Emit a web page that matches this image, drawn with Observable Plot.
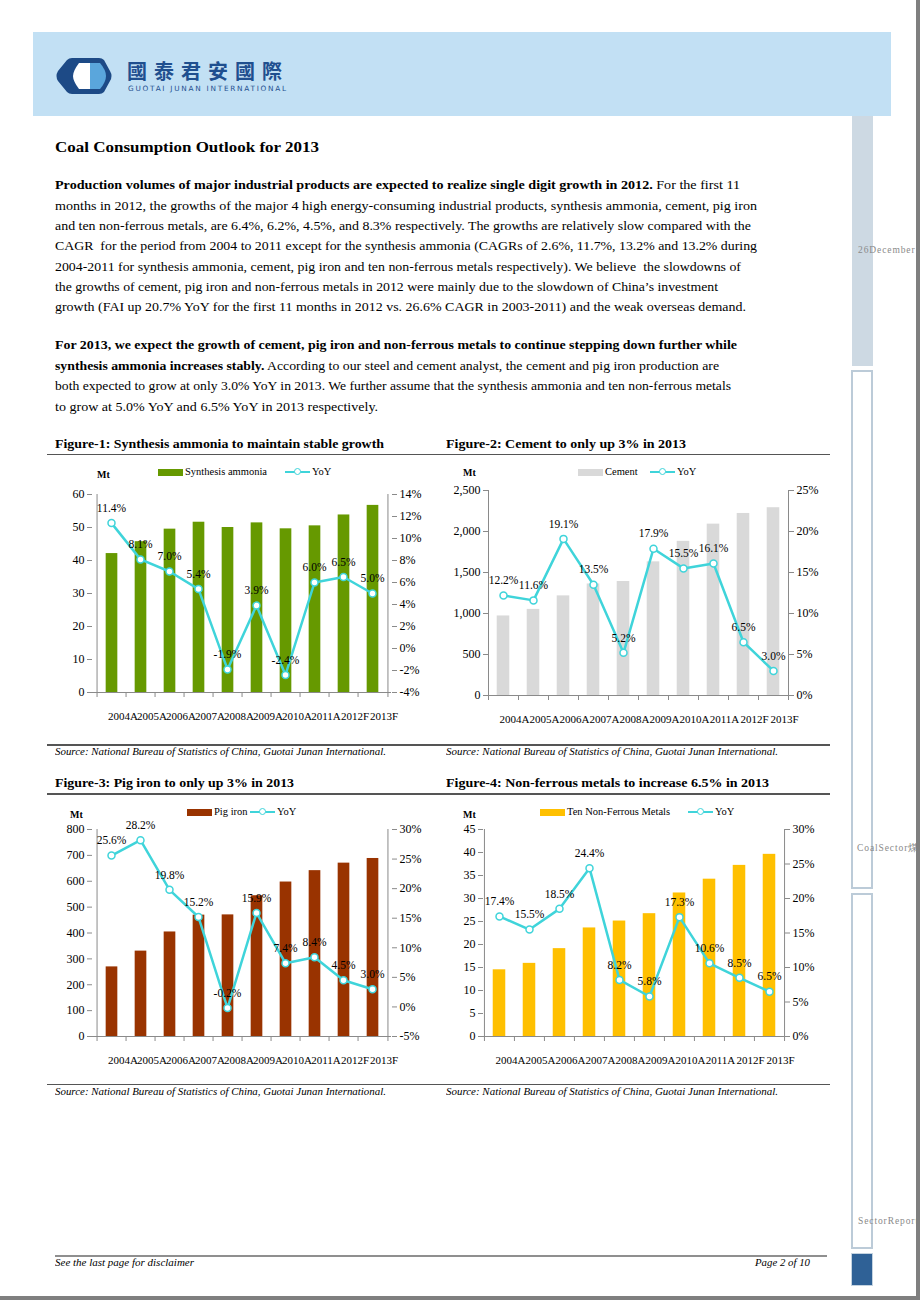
<!DOCTYPE html>
<html><head><meta charset="utf-8">
<script src="https://cdn.jsdelivr.net/npm/d3@7"></script>
<script src="https://cdn.jsdelivr.net/npm/@observablehq/plot@0.6"></script>
<style>
body{margin:0;background:#fff;}
#page{position:relative;width:920px;height:1300px;overflow:hidden;background:#fff;font-family:"Liberation Serif","Times New Roman",serif;color:#000;}
.t{position:absolute;white-space:nowrap;display:inline-block;transform-origin:0 50%;}
.body{font-size:13px;line-height:20px;height:20px;}
.fig{font-size:13px;font-weight:bold;line-height:20px;}
.src{font-size:10.5px;font-style:italic;line-height:14px;}
.rule{position:absolute;background:#555;}
.side{position:absolute;font-size:9.5px;letter-spacing:0.9px;color:#8a8a8a;white-space:nowrap;line-height:12px;}
.lg{position:absolute;font-size:10.5px;line-height:12px;white-space:nowrap;}
.mt{position:absolute;font-size:10px;font-weight:bold;line-height:12px;}
</style>
</head><body>
<div id="page">
  <!-- header -->
  <div style="position:absolute;left:33px;top:32px;width:858px;height:84px;background:#c2e0f4;"></div>
  <svg style="position:absolute;left:50px;top:54px;" width="250" height="46" viewBox="50 54 250 46">
    <path d="M58,71 Q55,76 58,81 L67,92 Q69,94 72,94 L99,94 Q102,94 104,92 L110,81 Q113,76 110,71 L104,60 Q102,58 99,58 L72,58 Q69,58 67,60 Z" fill="#1d4a86"/>
    <path d="M79,63 L90,63 L90,89 L79,89 Q73,81 73,76 Q73,71 79,63 Z" fill="#ffffff"/>
    <path d="M90,63 L100,63 Q106,70 106,76 Q106,82 100,89 L90,89 Z" fill="#5aa6dc"/>
    <text x="127" y="79" font-family="'Noto Sans CJK TC'" font-weight="bold" font-size="20" letter-spacing="7" fill="#1f4f8f">國泰君安國際</text>
    <text x="128" y="91" font-family="'DejaVu Sans'" font-size="7.3" letter-spacing="1.75" fill="#1f4f8f">GUOTAI JUNAN INTERNATIONAL</text>
  </svg>

  <!-- right sidebar -->
  <div style="position:absolute;left:852px;top:116px;width:21px;height:250px;background:#cdd9e3;"></div>
  <div style="position:absolute;left:851px;top:370px;width:18px;height:515px;border:2px solid #bccbd8;"></div>
  <div style="position:absolute;left:851px;top:893px;width:18px;height:352px;border:2px solid #bccbd8;"></div>
  <div style="position:absolute;left:851px;top:1253px;width:22px;height:33px;background:#2f6196;border:1px solid #c4d3e0;box-sizing:border-box;"></div>
  <div class="side" style="left:858px;top:244px;">26December</div>
  <div class="side" style="left:857px;top:842px;">CoalSector煤</div>
  <div class="side" style="left:858px;top:1215px;">SectorReport</div>
  <div style="position:absolute;left:916px;top:0;width:4px;height:1300px;background:#7f7f7f;"></div>
  <div style="position:absolute;left:0;top:1296px;width:920px;height:4px;background:#7f7f7f;"></div>

  <!-- text -->
  <span class="t" data-r="319" style="left:55px;top:137px;font-size:15.5px;font-weight:bold;line-height:20px;">Coal Consumption Outlook for 2013</span>

  <span class="t body" data-r="740" style="left:55px;top:175px;"><b>Production volumes of major industrial products are expected to realize single digit growth in 2012.</b> For the first 11</span>
  <span class="t body" data-r="757" style="left:55px;top:195.5px;">months in 2012, the growths of the major 4 high energy-consuming industrial products, synthesis ammonia, cement, pig iron</span>
  <span class="t body" data-r="751" style="left:55px;top:216px;">and ten non-ferrous metals, are 6.4%, 6.2%, 4.5%, and 8.3% respectively. The growths are relatively slow compared with the</span>
  <span class="t body" data-r="757" style="left:55px;top:236px;">CAGR&nbsp; for the period from 2004 to 2011 except for the synthesis ammonia (CAGRs of 2.6%, 11.7%, 13.2% and 13.2% during</span>
  <span class="t body" data-r="741" style="left:55px;top:256.5px;">2004-2011 for synthesis ammonia, cement, pig iron and ten non-ferrous metals respectively). We believe&nbsp; the slowdowns of</span>
  <span class="t body" data-r="718" style="left:55px;top:277px;">the growths of cement, pig iron and non-ferrous metals in 2012 were mainly due to the slowdown of China’s investment</span>
  <span class="t body" data-r="746" style="left:55px;top:297px;">growth (FAI up 20.7% YoY for the first 11 months in 2012 vs. 26.6% CAGR in 2003-2011) and the weak overseas demand.</span>

  <span class="t body" data-r="737" style="left:55px;top:335px;"><b>For 2013, we expect the growth of cement, pig iron and non-ferrous metals to continue stepping down further while</b></span>
  <span class="t body" data-r="719" style="left:55px;top:356px;"><b>synthesis ammonia increases stably.</b> According to our steel and cement analyst, the cement and pig iron production are</span>
  <span class="t body" data-r="731" style="left:55px;top:376px;">both expected to grow at only 3.0% YoY in 2013. We further assume that the synthesis ammonia and ten non-ferrous metals</span>
  <span class="t body" data-r="378" style="left:55px;top:397px;">to grow at 5.0% YoY and 6.5% YoY in 2013 respectively.</span>

  <!-- figure titles & rules -->
  <span class="t fig" data-r="384" style="left:55px;top:434px;">Figure-1: Synthesis ammonia to maintain stable growth</span>
  <span class="t fig" data-r="686" style="left:446px;top:434px;">Figure-2: Cement to only up 3% in 2013</span>
  <div class="rule" style="left:47px;top:453.5px;width:783px;height:1.5px;"></div>
  <div class="rule" style="left:47px;top:744px;width:783px;height:1.5px;"></div>
  <span class="t src" data-r="386" style="left:55px;top:745px;">Source: National Bureau of Statistics of China, Guotai Junan International.</span>
  <span class="t src" data-r="778" style="left:446px;top:745px;">Source: National Bureau of Statistics of China, Guotai Junan International.</span>

  <span class="t fig" data-r="294" style="left:55px;top:773px;">Figure-3: Pig iron to only up 3% in 2013</span>
  <span class="t fig" data-r="769" style="left:446px;top:773px;">Figure-4: Non-ferrous metals to increase 6.5% in 2013</span>
  <div class="rule" style="left:47px;top:793px;width:783px;height:1.5px;"></div>
  <div class="rule" style="left:47px;top:1083.5px;width:783px;height:1.5px;"></div>
  <span class="t src" data-r="386" style="left:55px;top:1085px;">Source: National Bureau of Statistics of China, Guotai Junan International.</span>
  <span class="t src" data-r="778" style="left:446px;top:1085px;">Source: National Bureau of Statistics of China, Guotai Junan International.</span>

  <!-- footer -->
  <div style="position:absolute;left:55px;top:1255px;width:772px;height:2px;background:#8f8f8f;"></div>
  <span class="t src" data-r="194" style="left:55px;top:1256px;">See the last page for disclaimer</span>
  <span class="t src" data-r="810" style="left:755px;top:1256px;">Page 2 of 10</span>
</div>

<script>
// ---------- data ----------
const years = ["2004A","2005A","2006A","2007A","2008A","2009A","2010A","2011A","2012F","2013F"];

const ammoniaMt  = [42.1, 45.7, 49.5, 51.6, 50.0, 51.4, 49.6, 50.5, 53.8, 56.7];
const ammoniaYoY = [11.4, 8.1, 7.0, 5.4, -1.9, 3.9, -2.4, 6.0, 6.5, 5.0];

const cementMt   = [970, 1050, 1215, 1360, 1390, 1630, 1880, 2090, 2220, 2290];
const cementYoY  = [12.2, 11.6, 19.1, 13.5, 5.2, 17.9, 15.5, 16.1, 6.5, 3.0];

const pigIronMt  = [269, 330, 404, 469, 470, 544, 597, 641, 670, 688];
const pigIronYoY = [25.6, 28.2, 19.8, 15.2, -0.2, 15.9, 7.4, 8.4, 4.5, 3.0];

const metalsMt   = [14.5, 15.9, 19.1, 23.6, 25.1, 26.7, 31.2, 34.2, 37.2, 39.6];
const metalsYoY  = [17.4, 15.5, 18.5, 24.4, 8.2, 5.8, 17.3, 10.6, 8.5, 6.5];

const ammoniaTicks    = [0, 10, 20, 30, 40, 50, 60];
const ammoniaYoYTicks = [-4, -2, 0, 2, 4, 6, 8, 10, 12, 14];
const cementTicks     = [0, 500, 1000, 1500, 2000, 2500];
const cementYoYTicks  = [0, 5, 10, 15, 20, 25];
const pigIronTicks    = [0, 100, 200, 300, 400, 500, 600, 700, 800];
const pigIronYoYTicks = [-5, 0, 5, 10, 15, 20, 25, 30];
const metalsTicks     = [0, 5, 10, 15, 20, 25, 30, 35, 40, 45];
const metalsYoYTicks  = [0, 5, 10, 15, 20, 25, 30];

const seriesNames = ["Synthesis ammonia", "Cement", "Pig iron", "Ten Non-Ferrous Metals"];
const yoyName = "YoY";
const unitLabel = "Mt";

// ---------- styles ----------
const CYAN = "#3fd4da";
const AXIS = "#8a8a8a";
const FONT = "font-family:'Liberation Serif','Times New Roman',serif;font-size:11px;color:#000;background:transparent;overflow:visible;position:absolute;left:0;top:0;max-width:none;";
const page = document.getElementById("page");

function drawChart(cfg) {
  const {left, top, width, height, mL, mR, mT, mB, mt, yoy, color, ticks, yoyTicks, fmt} = cfg;
  const rows = years.map((year, i) => ({year, mt: mt[i], yoy: yoy[i]}));
  const bw = (width - mL - mR) / years.length;
  const frameH = height - mT - mB;
  const wrap = document.createElement("div");
  wrap.style.cssText = `position:absolute;left:${left}px;top:${top}px;width:${width}px;height:${height}px;`;
  const common = {width, height, marginLeft: mL, marginRight: mR, marginTop: mT, marginBottom: mB, style: FONT};

  const bars = Plot.plot({
    ...common,
    x: {type: "band", domain: years, padding: 0, label: null},
    y: {domain: [ticks[0], ticks[ticks.length - 1]], label: null},
    marks: [
      Plot.barY(rows, {x: "year", y: "mt", fill: color, insetLeft: bw * 0.29, insetRight: bw * 0.29}),
      Plot.ruleY([ticks[0]], {stroke: AXIS}),
      Plot.ruleX([years[0]], {dx: -bw / 2, stroke: AXIS}),
      Plot.ruleX([years[years.length - 1]], {dx: bw / 2, stroke: AXIS}),
      Plot.ruleX(years, {dx: -bw / 2, stroke: AXIS, insetTop: frameH, insetBottom: -5}),
      Plot.ruleX([years[years.length - 1]], {dx: bw / 2, stroke: AXIS, insetTop: frameH, insetBottom: -5}),
      Plot.axisY(ticks, {anchor: "left", tickSize: 5, tickPadding: 3, stroke: AXIS, fill: "#000", fontSize: 12, tickFormat: fmt, label: null}),
      Plot.axisX({anchor: "bottom", tickSize: 0, tickPadding: 20, dx: 11, fill: "#000", label: null})
    ]
  });

  const line = Plot.plot({
    ...common,
    x: {type: "point", domain: years, padding: 0.5, axis: null},
    y: {domain: [yoyTicks[0], yoyTicks[yoyTicks.length - 1]], label: null},
    marks: [
      Plot.axisY(yoyTicks, {anchor: "right", tickSize: 5, tickPadding: 3, stroke: AXIS, fill: "#000", fontSize: 12, tickFormat: d => d + "%", label: null}),
      Plot.line(rows, {x: "year", y: "yoy", stroke: CYAN, strokeWidth: 2.5}),
      Plot.dot(rows, {x: "year", y: "yoy", r: 3.5, fill: "#fff", stroke: CYAN, strokeWidth: 1.5}),
      Plot.text(rows, {x: "year", y: "yoy", text: d => d.yoy.toFixed(1) + "%", dy: -15, fontSize: 11.5, fill: "#000"})
    ]
  });
  wrap.appendChild(bars);
  wrap.appendChild(line);
  page.appendChild(wrap);
}

function legend(cfg) {
  const {mtX, mtY, barX, barY, name, color, lineX, lineY} = cfg;
  const add = (css, html, cls) => {
    const d = document.createElement("div");
    if (cls) d.className = cls;
    d.style.cssText += css;
    if (html != null) d.textContent = html;
    page.appendChild(d);
  };
  add(`left:${mtX}px;top:${mtY}px;`, unitLabel, "mt");
  add(`position:absolute;left:${barX}px;top:${barY}px;width:25px;height:6.5px;background:${color};`);
  add(`left:${barX + 27}px;top:${barY - 3}px;`, name, "lg");
  add(`position:absolute;left:${lineX}px;top:${lineY - 1.2}px;width:25px;height:2.5px;background:${CYAN};`);
  add(`position:absolute;left:${lineX + 8.5}px;top:${lineY - 4}px;width:5px;height:5px;border:1.5px solid ${CYAN};border-radius:50%;background:#fff;`);
  add(`left:${lineX + 27}px;top:${lineY - 6}px;`, yoyName, "lg");
}

const comma = d3.format(",");
drawChart({left: 47, top: 460, width: 393, height: 272, mL: 45, mR: 49, mT: 34, mB: 40,
  mt: ammoniaMt, yoy: ammoniaYoY, color: "#669900", ticks: ammoniaTicks, yoyTicks: ammoniaYoYTicks, fmt: d => d});
drawChart({left: 440, top: 460, width: 392, height: 272, mL: 48, mR: 44, mT: 30, mB: 37,
  mt: cementMt, yoy: cementYoY, color: "#d9d9d9", ticks: cementTicks, yoyTicks: cementYoYTicks, fmt: comma});
drawChart({left: 47, top: 800, width: 393, height: 272, mL: 45, mR: 49, mT: 29, mB: 36,
  mt: pigIronMt, yoy: pigIronYoY, color: "#993300", ticks: pigIronTicks, yoyTicks: pigIronYoYTicks, fmt: d => d});
drawChart({left: 440, top: 800, width: 392, height: 272, mL: 43, mR: 48, mT: 29, mB: 36,
  mt: metalsMt, yoy: metalsYoY, color: "#ffc000", ticks: metalsTicks, yoyTicks: metalsYoYTicks, fmt: d => d});

legend({mtX: 97, mtY: 469, barX: 158, barY: 469, name: seriesNames[0], color: "#669900", lineX: 285, lineY: 472});
legend({mtX: 463, mtY: 467, barX: 578, barY: 469, name: seriesNames[1], color: "#d9d9d9", lineX: 650, lineY: 472});
legend({mtX: 70, mtY: 809, barX: 187, barY: 809, name: seriesNames[2], color: "#993300", lineX: 250, lineY: 812});
legend({mtX: 463, mtY: 809, barX: 540, barY: 809, name: seriesNames[3], color: "#ffc000", lineX: 688, lineY: 812});

// fit text lines to the reference widths
function fit() {
  document.querySelectorAll(".t[data-r]").forEach(el => {
    el.style.transform = "none";
    const w = el.getBoundingClientRect().width;
    const target = +el.dataset.r - parseFloat(el.style.left);
    if (w > 0) el.style.transform = `scaleX(${target / w})`;
  });
}
fit();
if (document.fonts && document.fonts.ready) document.fonts.ready.then(fit);
</script>
</body></html>
